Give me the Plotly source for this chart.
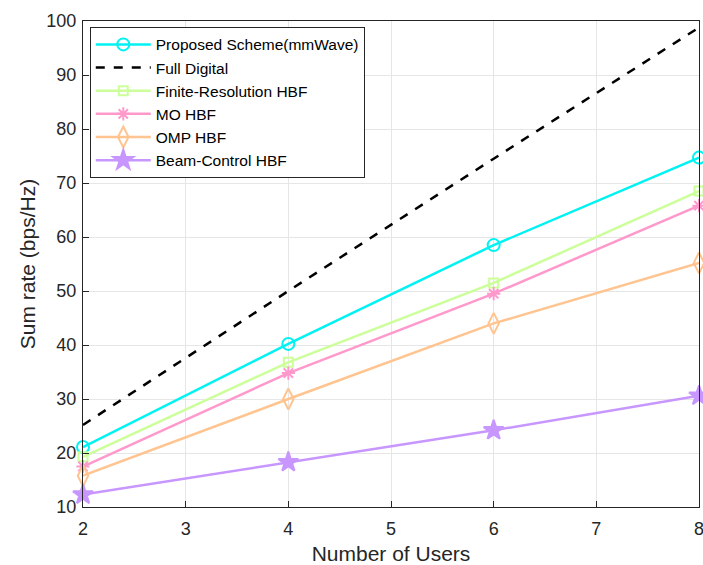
import plotly.graph_objects as go

users = [2, 4, 6, 8]
proposed = [21.1, 40.2, 58.5, 74.7]
full_digital = [25.2, 50.0, 74.5, 98.8]
finite_res = [19.3, 36.8, 51.5, 68.5]
mo_hbf = [17.5, 34.8, 49.5, 65.8]
omp_hbf = [15.8, 30.0, 44.0, 55.2]
beam_ctrl = [12.3, 18.3, 24.2, 30.6]

series = [
    ("Proposed Scheme(mmWave)", proposed, "#00F2F2", "circle-open", None, 12),
    ("Full Digital", full_digital, "#000000", None, "dash", 0),
    ("Finite-Resolution HBF", finite_res, "#CCFF99", "square-open", None, 9),
    ("MO HBF", mo_hbf, "#FF99CC", "asterisk-open", None, 11),
    ("OMP HBF", omp_hbf, "#FFC48F", "diamond-tall-open", None, 15),
    ("Beam-Control HBF", beam_ctrl, "#C896FF", "star", None, 15),
]

fig = go.Figure()
for name, ys, color, sym, dash, size in series:
    mode = "lines+markers" if sym else "lines"
    fig.add_trace(go.Scatter(
        x=users, y=ys, name=name, mode=mode,
        line=dict(color=color, width=2.5, dash=dash if dash else "solid"),
        marker=dict(symbol=sym, size=size, color=color,
                    line=dict(color=color, width=2)) if sym else None,
        cliponaxis=False,
    ))

axis_common = dict(
    showline=True, linecolor="#262626", linewidth=1, mirror=True,
    ticks="inside", ticklen=6, tickcolor="#262626",
    showgrid=True, gridcolor="#E6E6E6", gridwidth=1,
    tickfont=dict(family="Arial, Liberation Sans", size=18, color="#262626"),
    zeroline=False, ticklabeloverflow="allow", automargin=False,
)

fig.update_layout(
    width=703, height=565,
    margin=dict(l=83, r=4, t=21, b=58),
    paper_bgcolor="white", plot_bgcolor="white",
    font=dict(family="Arial, Liberation Sans", color="#262626"),
    xaxis=dict(range=[2, 8], dtick=1, ticklabelstandoff=5,
               title=dict(text="Number of Users", font=dict(size=21), standoff=8),
               **axis_common),
    yaxis=dict(range=[10, 100], dtick=10, ticklabelstandoff=2,
               title=dict(text="Sum rate (bps/Hz)", font=dict(size=21), standoff=5),
               **axis_common),
    legend=dict(x=0.011, y=0.988, xanchor="left", yanchor="top",
                bgcolor="white", bordercolor="#262626", borderwidth=1,
                font=dict(size=15.5, color="#000000"), tracegroupgap=0,
                itemwidth=55),
    showlegend=True,
)

fig.write_html("out.html")
